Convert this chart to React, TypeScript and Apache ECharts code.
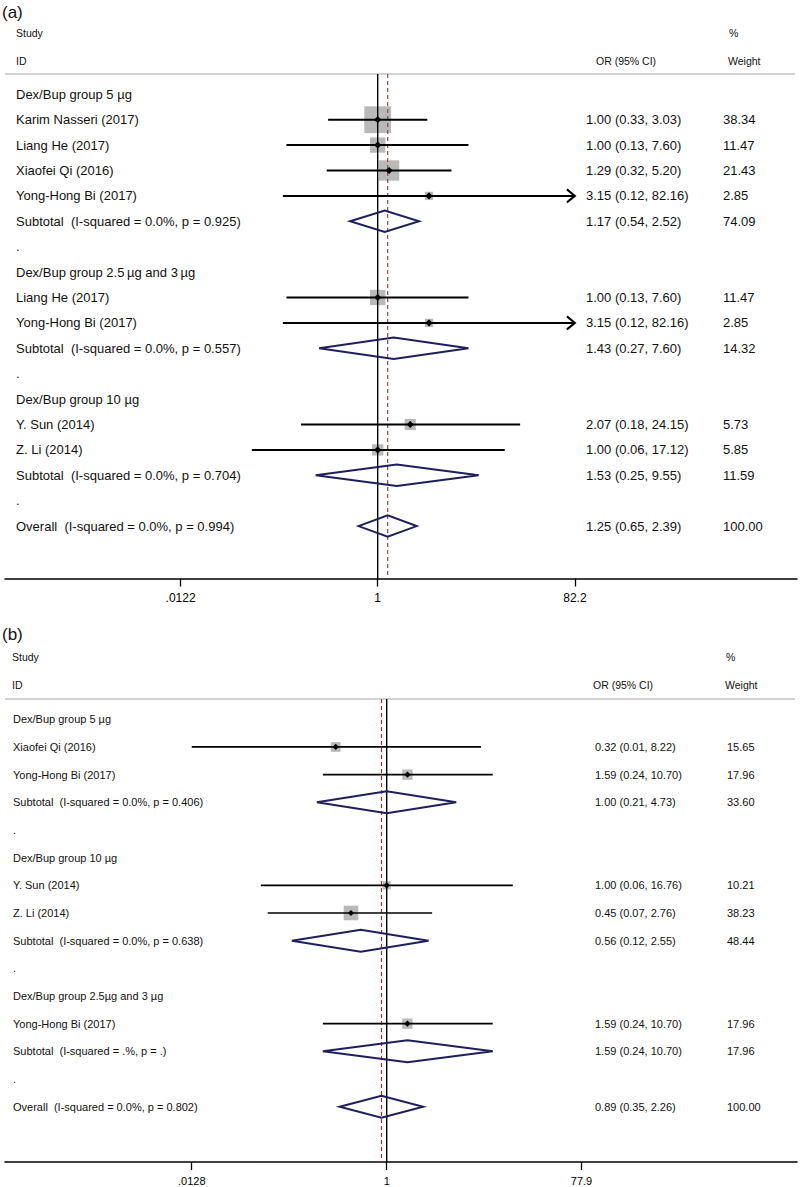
import React, { useEffect, useRef } from "react";
import * as echarts from "echarts";

const FONT = "'Liberation Sans', Arial, Helvetica, sans-serif";

// ---------- Panel (a) ----------
const labelsA = [
  "Dex/Bup group 5 µg",
  "Karim Nasseri (2017)",
  "Liang He (2017)",
  "Xiaofei Qi (2016)",
  "Yong-Hong Bi (2017)",
  "Subtotal  (I-squared = 0.0%, p = 0.925)",
  ".",
  "Dex/Bup group 2.5\u2009µg and 3\u2009µg",
  "Liang He (2017)",
  "Yong-Hong Bi (2017)",
  "Subtotal  (I-squared = 0.0%, p = 0.557)",
  ".",
  "Dex/Bup group 10 µg",
  "Y. Sun (2014)",
  "Z. Li (2014)",
  "Subtotal  (I-squared = 0.0%, p = 0.704)",
  ".",
  "Overall  (I-squared = 0.0%, p = 0.994)",
];
const kindsA = [
  "group", "study", "study", "study", "study", "subtotal", "gap",
  "group", "study", "study", "subtotal", "gap",
  "group", "study", "study", "subtotal", "gap", "overall",
];
const orA = [null, 1.0, 1.0, 1.29, 3.15, 1.17, null, null, 1.0, 3.15, 1.43, null, null, 2.07, 1.0, 1.53, null, 1.25];
const lowA = [null, 0.33, 0.13, 0.32, 0.12, 0.54, null, null, 0.13, 0.12, 0.27, null, null, 0.18, 0.06, 0.25, null, 0.65];
const highA = [null, 3.03, 7.6, 5.2, 82.16, 2.52, null, null, 7.6, 82.16, 7.6, null, null, 24.15, 17.12, 9.55, null, 2.39];
const weightA = [null, 38.34, 11.47, 21.43, 2.85, 74.09, null, null, 11.47, 2.85, 14.32, null, null, 5.73, 5.85, 11.59, null, 100.0];
const arrowA = [false, false, false, false, true, false, false, false, false, true, false, false, false, false, false, false, false, false];
const tickValuesA = [0.0122, 1, 82.2];
const tickLabelsA = [".0122", "1", "82.2"];

// ---------- Panel (b) ----------
const labelsB = [
  "Dex/Bup group 5 µg",
  "Xiaofei Qi (2016)",
  "Yong-Hong Bi (2017)",
  "Subtotal  (I-squared = 0.0%, p = 0.406)",
  ".",
  "Dex/Bup group 10 µg",
  "Y. Sun (2014)",
  "Z. Li (2014)",
  "Subtotal  (I-squared = 0.0%, p = 0.638)",
  ".",
  "Dex/Bup group 2.5µg and 3 µg",
  "Yong-Hong Bi (2017)",
  "Subtotal  (I-squared = .%, p = .)",
  ".",
  "Overall  (I-squared = 0.0%, p = 0.802)",
];
const kindsB = [
  "group", "study", "study", "subtotal", "gap",
  "group", "study", "study", "subtotal", "gap",
  "group", "study", "subtotal", "gap", "overall",
];
const orB = [null, 0.32, 1.59, 1.0, null, null, 1.0, 0.45, 0.56, null, null, 1.59, 1.59, null, 0.89];
const lowB = [null, 0.01, 0.24, 0.21, null, null, 0.06, 0.07, 0.12, null, null, 0.24, 0.24, null, 0.35];
const highB = [null, 8.22, 10.7, 4.73, null, null, 16.76, 2.76, 2.55, null, null, 10.7, 10.7, null, 2.26];
const weightB = [null, 15.65, 17.96, 33.6, null, null, 10.21, 38.23, 48.44, null, null, 17.96, 17.96, null, 100.0];
const arrowB = [false, false, false, false, false, false, false, false, false, false, false, false, false, false, false];
const tickValuesB = [0.0128, 1, 77.9];
const tickLabelsB = [".0128", "1", "77.9"];

const headerTexts = { study: "Study", id: "ID", pct: "%", or: "OR (95% CI)", weight: "Weight" };

const panels = [
  {
    title: "(a)",
    labels: labelsA, kinds: kindsA, or: orA, low: lowA, high: highA, weight: weightA, arrow: arrowA,
    ticks: tickValuesA, tickLabels: tickLabelsA,
    L: {
      titleY: 12, gridTop: 74, axisY: 578.5, row0: 94.3, step: 25.4, cx: 377.7, ppd: 103,
      labelX: 16, orX: 586, wX: 723, font: 13, headFont: 10.5,
      headY1: 33.3, headY2: 60.7, studyX: 16, pctX: 729, orHX: 596, wHX: 728,
      boxA: 1.4, boxB: 4.1, dia: 10.7, mk: 3.6, ciW: 2, refColor: "#8e4a4a", tickFont: 12,
    },
  },
  {
    title: "(b)",
    labels: labelsB, kinds: kindsB, or: orB, low: lowB, high: highB, weight: weightB, arrow: arrowB,
    ticks: tickValuesB, tickLabels: tickLabelsB,
    L: {
      titleY: 634, gridTop: 699, axisY: 1162, row0: 719.3, step: 27.67, cx: 386.7, ppd: 103,
      labelX: 13, orX: 595, wX: 727, font: 11, headFont: 10.5,
      headY1: 657, headY2: 684.5, studyX: 12, pctX: 726, orHX: 593, wHX: 725,
      boxA: 1.0, boxB: 2.2, dia: 11, mk: 3.1, ciW: 1.7, refColor: "#b02a2a", tickFont: 11,
    },
  },
];

const GRID_LEFT = 5;
const GRID_RIGHT_X = 797;

function buildOption() {
  const grid: any[] = [];
  const xAxis: any[] = [];
  const yAxis: any[] = [];
  const series: any[] = [];
  const graphic: any[] = [];

  panels.forEach((p, pi) => {
    const L = p.L;
    grid.push({ left: GRID_LEFT, width: GRID_RIGHT_X - GRID_LEFT, top: L.gridTop, height: L.axisY - L.gridTop });
    const logTicks = p.ticks.map((t) => Math.log10(t));
    xAxis.push({
      gridIndex: pi,
      type: "value",
      min: -(L.cx - GRID_LEFT) / L.ppd,
      max: (GRID_RIGHT_X - L.cx) / L.ppd,
      splitLine: { show: false },
      axisLine: { show: true, onZero: false, lineStyle: { color: "#000", width: 1.6 } },
      axisTick: { show: true, customValues: logTicks, length: 8, lineStyle: { color: "#000", width: 1.3 } },
      axisLabel: {
        show: true,
        customValues: logTicks,
        margin: 13,
        fontSize: L.tickFont,
        fontFamily: FONT,
        color: "#000",
        formatter: (v: number) => {
          const k = logTicks.findIndex((t) => Math.abs(t - v) < 1e-6);
          return k >= 0 ? p.tickLabels[k] : "";
        },
      },
    });
    yAxis.push({
      gridIndex: pi,
      type: "value",
      inverse: true,
      min: (L.gridTop - L.row0) / L.step,
      max: (L.axisY - L.row0) / L.step,
      show: false,
    });

    const overallIdx = p.kinds.indexOf("overall");
    const overallOr = p.or[overallIdx] as number;

    // boxes (bottom layer)
    series.push({
      type: "custom",
      xAxisIndex: pi,
      yAxisIndex: pi,
      clip: false,
      z: 1,
      data: p.labels.map((_, i) => [0, i]),
      renderItem: (params: any, api: any) => {
        const i = params.dataIndex;
        if (p.kinds[i] !== "study") return null;
        const [x, y] = api.coord([Math.log10(p.or[i] as number), i]);
        const s = L.boxA + L.boxB * Math.sqrt(p.weight[i] as number);
        return {
          type: "rect",
          shape: { x: x - s / 2, y: y - s / 2, width: s, height: s },
          style: { fill: "#b9b9b9" },
        };
      },
    });

    // reference lines + header rule
    series.push({
      type: "custom",
      xAxisIndex: pi,
      yAxisIndex: pi,
      clip: false,
      z: 2,
      data: [[0, 0]],
      renderItem: (params: any, api: any) => {
        const cs = params.coordSys;
        const x1 = api.coord([Math.log10(1), 0])[0];
        const xo = api.coord([Math.log10(overallOr), 0])[0];
        return {
          type: "group",
          children: [
            {
              type: "line",
              shape: { x1: cs.x, y1: cs.y, x2: cs.x + cs.width - 2, y2: cs.y },
              style: { stroke: "#c4c4c4", lineWidth: 1.6 },
            },
            {
              type: "line",
              shape: { x1: x1, y1: cs.y, x2: x1, y2: cs.y + cs.height },
              style: { stroke: "#000", lineWidth: 1.4 },
            },
            {
              type: "line",
              shape: { x1: xo, y1: cs.y, x2: xo, y2: cs.y + cs.height },
              style: { stroke: L.refColor, lineWidth: 1.2, lineDash: [4, 3] },
            },
          ],
        };
      },
    });

    // rows: CIs, markers, diamonds, texts
    series.push({
      type: "custom",
      xAxisIndex: pi,
      yAxisIndex: pi,
      clip: false,
      z: 3,
      data: p.labels.map((_, i) => [0, i]),
      renderItem: (params: any, api: any) => {
        const i = params.dataIndex;
        const kind = p.kinds[i];
        const y = api.coord([0, i])[1];
        const X = (v: number) => api.coord([Math.log10(v), i])[0];
        const children: any[] = [];
        const txt = (text: string, x: number, size: number) => ({
          type: "text",
          style: {
            text,
            x,
            y,
            fill: "#111",
            fontSize: size,
            fontFamily: FONT,
            align: "left",
            verticalAlign: "middle",
          },
        });
        children.push(txt(p.labels[i], L.labelX, L.font));
        if (kind === "study" || kind === "subtotal" || kind === "overall") {
          const o = p.or[i] as number;
          const lo = p.low[i] as number;
          const hi = p.high[i] as number;
          const w = p.weight[i] as number;
          children.push(txt(`${o.toFixed(2)} (${lo.toFixed(2)}, ${hi.toFixed(2)})`, L.orX, L.font));
          children.push(txt(w.toFixed(2), L.wX, L.font));
          const tMin = p.ticks[0];
          const tMax = p.ticks[p.ticks.length - 1];
          const xl = X(Math.max(lo, tMin));
          const xh = X(Math.min(hi, tMax));
          const xo = X(o);
          if (kind === "study") {
            children.push({
              type: "line",
              shape: { x1: xl, y1: y, x2: xh, y2: y },
              style: { stroke: "#000", lineWidth: L.ciW },
            });
            if (p.arrow[i]) {
              children.push({
                type: "polyline",
                shape: { points: [[xh - 8, y - 6.5], [xh, y], [xh - 8, y + 6.5]] },
                style: { stroke: "#000", lineWidth: L.ciW, fill: null },
              });
            }
            const m = L.mk;
            children.push({
              type: "polygon",
              shape: { points: [[xo - m, y], [xo, y - m], [xo + m, y], [xo, y + m]] },
              style: { fill: "#000" },
            });
          } else {
            const h = L.dia;
            children.push({
              type: "polygon",
              shape: { points: [[xl, y], [xo, y - h], [xh, y], [xo, y + h]] },
              style: { stroke: "#1f1f5c", lineWidth: 2, fill: null },
            });
          }
        }
        return { type: "group", children };
      },
    });

    // titles & header texts
    const hText = (text: string, x: number, y: number, size: number) => ({
      type: "text",
      x,
      y,
      style: { text, fill: "#111", fontSize: size, fontFamily: FONT, align: "left", verticalAlign: "middle" },
    });
    graphic.push(hText(p.title, 2, L.titleY, 17));
    graphic.push(hText(headerTexts.study, L.studyX, L.headY1, L.headFont));
    graphic.push(hText(headerTexts.id, L.studyX, L.headY2, L.headFont));
    graphic.push(hText(headerTexts.pct, L.pctX, L.headY1, L.headFont));
    graphic.push(hText(headerTexts.or, L.orHX, L.headY2, L.headFont));
    graphic.push(hText(headerTexts.weight, L.wHX, L.headY2, L.headFont));
  });

  return { animation: false, backgroundColor: "#fff", grid, xAxis, yAxis, series, graphic };
}

export default function App() {
  const ref = useRef<HTMLDivElement>(null);
  useEffect(() => {
    if (!ref.current) return;
    const chart = echarts.init(ref.current, null, { renderer: "svg" });
    chart.setOption(buildOption() as any);
    return () => chart.dispose();
  }, []);
  return (
    <div
      ref={ref}
      style={{ position: "absolute", left: 0, top: 0, width: 800, height: 1187, background: "#fff" }}
    />
  );
}
